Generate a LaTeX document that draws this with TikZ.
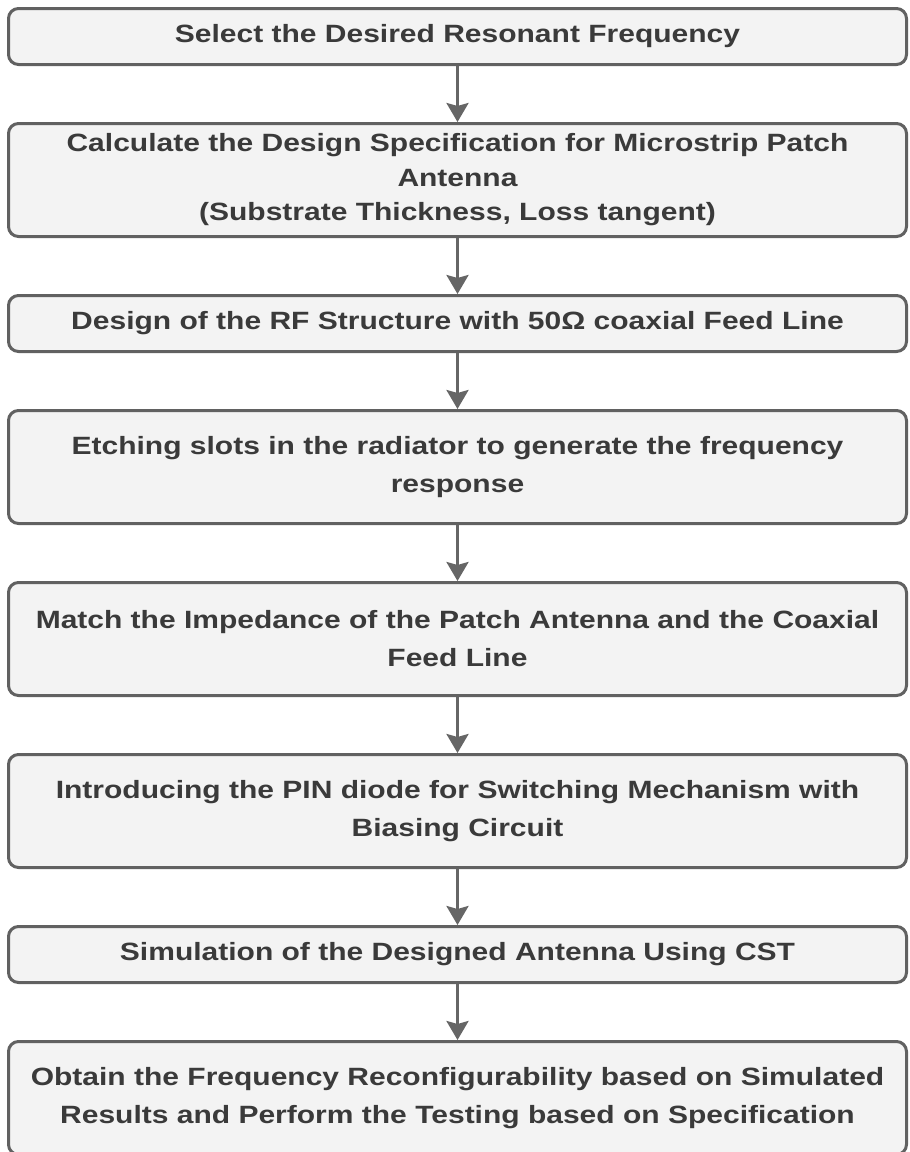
\documentclass[tikz,border=0pt]{standalone}
\usepackage{fontspec}
\setmainfont[FakeStretch=1.2]{Liberation Sans}
\usetikzlibrary{arrows.meta,positioning}
\definecolor{boxfill}{HTML}{F3F3F3}
\definecolor{boxline}{HTML}{616161}
\definecolor{boxtext}{HTML}{3A3A3A}
\definecolor{flowline}{HTML}{666666}

\begin{document}
\begin{tikzpicture}[x=1pt,y=1pt,>={Stealth[width=22pt,length=19pt,inset=3pt]},
 font=\bfseries\fontsize{25}{38}\selectfont,
 box/.style={draw=boxline,fill=boxfill,text=boxtext,line width=3pt,rounded corners=10pt,
   align=center,minimum width=898pt,inner sep=0pt},
 short/.style={box,minimum height=56pt},
 tall/.style={box,minimum height=113pt},
 flow/.style={->,line width=3pt,flowline},
 node distance=56pt]
\useasboundingbox (0,0) rectangle (910,-1152);
\node[short] (freq) at (457.5,-36.5) {Select the Desired Resonant Frequency};
\node[tall,below=of freq,font=\bfseries\fontsize{25}{34.5}\selectfont] (spec) {Calculate the Design Specification for Microstrip Patch\\ Antenna\\ (Substrate Thickness, Loss tangent)};
\node[short,below=of spec] (feed) {Design of the RF Structure with 50\symbol{"03A9} coaxial Feed Line};
\node[tall,below=of feed] (slots) {Etching slots in the radiator to generate the frequency\\ response};
\node[tall,below=of slots] (match) {Match the Impedance of the Patch Antenna and the Coaxial\\ Feed Line};
\node[tall,below=of match] (pin) {Introducing the PIN diode for Switching Mechanism with\\ Biasing Circuit};
\node[short,below=of pin] (sim) {Simulation of the Designed Antenna Using CST};
\node[tall,below=of sim] (test) {Obtain the Frequency Reconfigurability based on Simulated\\ Results and Perform the Testing based on Specification};
% connectors
\draw[flow] (freq) -- (spec);
\draw[flow] (spec) -- (feed);
\draw[flow] (feed) -- (slots);
\draw[flow] (slots) -- (match);
\draw[flow] (match) -- (pin);
\draw[flow] (pin) -- (sim);
\draw[flow] (sim) -- (test);
\end{tikzpicture}
\end{document}
